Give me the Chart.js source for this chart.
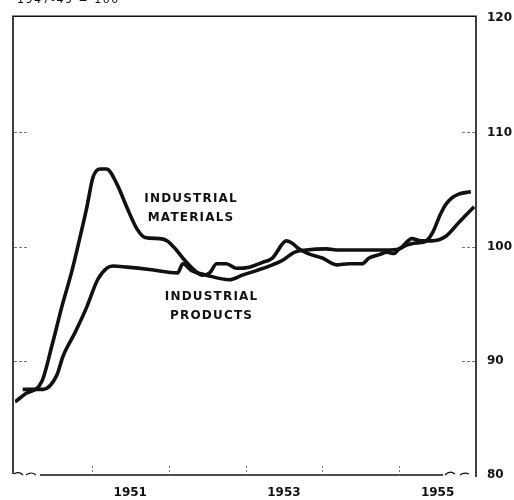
<!DOCTYPE html>
<html>
<head>
<meta charset="utf-8">
<script src="https://cdn.jsdelivr.net/npm/chart.js@4"></script>
<style>
  html, body { margin: 0; padding: 0; background: #fff; }
  #wrap { width: 514px; height: 500px; position: relative; }
</style>
</head>
<body>
<div id="wrap"><canvas id="c" width="514" height="500"></canvas></div>
<script>
// Months since January 1950
const materialsMonths = [0, 1.6, 4.2, 5.8, 7.3, 8.9, 10.1, 11.2, 12.2, 13.3, 14.3, 15.9, 17.5, 19, 20.3, 22.6, 23.8, 25.2, 26.2, 27.7, 29.3, 30.4, 31.5, 33, 34.6, 36.6, 38.6, 40.2, 42.4, 43.3, 44.1, 45.7, 48, 50.2, 52.2, 54.2, 55.3, 56.9, 58.1, 59.2, 60, 62.3, 63.9, 65.1, 66.5, 67.3, 68.1, 69.3, 71.2];
const materialsValues = [86.4, 87.1, 88.2, 91.4, 94.7, 97.9, 100.7, 103.4, 106.1, 106.8, 106.8, 105.5, 103.4, 101.6, 100.8, 100.7, 100.5, 99.7, 99.0, 98.1, 97.5, 97.7, 98.5, 98.5, 98.1, 98.2, 98.6, 99.0, 100.5, 100.3, 99.9, 99.4, 99.0, 98.4, 98.5, 98.5, 99.0, 99.3, 99.5, 99.4, 99.8, 100.3, 100.4, 101.1, 102.9, 103.7, 104.2, 104.6, 104.8];

const productsMonths = [1.2, 4.4, 6.5, 7.5, 9.4, 11.2, 12.9, 14.3, 15.3, 17.5, 21, 25.4, 26.2, 27.6, 29.9, 33.5, 35.5, 37.7, 40.2, 41.8, 43.6, 45.5, 48.6, 50.6, 53.3, 55.8, 58, 60, 62, 63.4, 65.1, 67.3, 69.3, 71.7];
const productsValues = [87.5, 87.5, 88.7, 90.4, 92.5, 94.7, 97.1, 98.1, 98.3, 98.2, 98.0, 97.7, 98.5, 97.9, 97.5, 97.1, 97.5, 97.9, 98.4, 98.8, 99.5, 99.7, 99.8, 99.7, 99.7, 99.7, 99.7, 99.8, 100.7, 100.5, 100.5, 100.9, 102.1, 103.5];

const yearLabels = ["1951", "1953", "1955"];
const yearLabelMonths = [18, 42, 66];
const yearTickMonths = [12, 24, 36, 48, 60];
const valueTicks = [80, 90, 100, 110, 120];
const innerTickValues = [90, 100, 110];
const baseNote = "1947-49 = 100";
const seriesNotes = [
  { lines: ["INDUSTRIAL", "MATERIALS"], month: 27.5, value: 104.2 },
  { lines: ["INDUSTRIAL", "PRODUCTS"], month: 30.7, value: 95.6 }
];

const toPoints = (xs, ys) => xs.map((x, i) => ({ x: x, y: ys[i] }));

const decor = {
  id: 'decor',
  afterDatasetsDraw(chart) {
    const ctx = chart.ctx;
    const a = chart.chartArea;
    const xs = chart.scales.x, ys = chart.scales.y;
    ctx.save();
    // frame
    ctx.strokeStyle = '#111';
    ctx.lineWidth = 1.6;
    ctx.beginPath();
    ctx.moveTo(a.left - 2, a.bottom - 1);
    ctx.lineTo(a.left - 2, a.top - 2);
    ctx.lineTo(a.right, a.top - 2);
    ctx.lineTo(a.right, a.bottom + 2);
    ctx.stroke();
    // bottom baseline with break marks
    ctx.beginPath();
    ctx.moveTo(a.left + 25, a.bottom);
    ctx.lineTo(a.right - 33, a.bottom);
    ctx.stroke();
    ctx.lineWidth = 1.2;
    ctx.beginPath();
    ctx.moveTo(a.left - 1, a.bottom - 1);
    ctx.quadraticCurveTo(a.left + 4, a.bottom - 4, a.left + 8, a.bottom);
    ctx.moveTo(a.left + 11, a.bottom);
    ctx.quadraticCurveTo(a.left + 16, a.bottom - 4, a.left + 21, a.bottom);
    ctx.moveTo(a.right - 31, a.bottom);
    ctx.quadraticCurveTo(a.right - 26, a.bottom - 5, a.right - 21, a.bottom - 1);
    ctx.moveTo(a.right - 16, a.bottom);
    ctx.quadraticCurveTo(a.right - 12, a.bottom - 3, a.right - 7, a.bottom - 1);
    ctx.stroke();
    // x ticks at year boundaries
    ctx.strokeStyle = '#777';
    ctx.lineWidth = 1;
    ctx.setLineDash([2, 2]);
    yearTickMonths.forEach(m => {
      const px = Math.round(xs.getPixelForValue(m)) + 0.5;
      ctx.beginPath();
      ctx.moveTo(px, a.bottom - 9);
      ctx.lineTo(px, a.bottom);
      ctx.stroke();
    });
    // inner y ticks
    ctx.setLineDash([3, 2]);
    innerTickValues.forEach(v => {
      const py = Math.round(ys.getPixelForValue(v)) + 0.5;
      ctx.beginPath();
      ctx.moveTo(a.left - 1, py);
      ctx.lineTo(a.left + 13, py);
      ctx.moveTo(a.right - 14, py);
      ctx.lineTo(a.right, py);
      ctx.stroke();
    });
    ctx.setLineDash([]);
    // series notes
    ctx.fillStyle = '#111';
    ctx.font = 'bold 12px "DejaVu Sans"';
    ctx.letterSpacing = '1.2px';
    ctx.textAlign = 'center';
    ctx.textBaseline = 'middle';
    seriesNotes.forEach(n => {
      const px = xs.getPixelForValue(n.month);
      const py = ys.getPixelForValue(n.value);
      n.lines.forEach((t, i) => ctx.fillText(t, px, py + i * 19));
    });
    // base note (cut off at top)
    ctx.font = '11px "DejaVu Sans"';
    ctx.letterSpacing = '1.5px';
    ctx.textAlign = 'left';
    ctx.textBaseline = 'alphabetic';
    ctx.fillText(baseNote, 17, 2.5);
    ctx.restore();
  }
};

new Chart(document.getElementById('c'), {
  type: 'line',
  data: {
    datasets: [
      {
        label: 'Industrial materials',
        data: toPoints(materialsMonths, materialsValues),
        borderColor: '#111',
        borderWidth: 3.6,
        pointRadius: 0,
        cubicInterpolationMode: 'monotone',
        fill: false
      },
      {
        label: 'Industrial products',
        data: toPoints(productsMonths, productsValues),
        borderColor: '#111',
        borderWidth: 3.6,
        pointRadius: 0,
        cubicInterpolationMode: 'monotone',
        fill: false
      }
    ]
  },
  options: {
    responsive: false,
    animation: false,
    layout: { padding: { left: 15, top: 14, right: 0, bottom: 0 } },
    plugins: { legend: { display: false }, tooltip: { enabled: false } },
    scales: {
      x: {
        type: 'linear',
        min: 0,
        max: 72,
        grid: { display: false, drawTicks: false, tickLength: 0 },
        border: { display: false },
        afterBuildTicks: s => { s.ticks = yearLabelMonths.map(v => ({ value: v })); },
        afterFit: s => { s.height = 25; },
        ticks: {
          autoSkip: false,
          maxRotation: 0,
          padding: 11,
          color: '#111',
          font: { family: 'DejaVu Sans', size: 12, weight: 'bold' },
          callback: (v) => yearLabels[yearLabelMonths.indexOf(v)]
        }
      },
      y: {
        position: 'right',
        min: 80,
        max: 120,
        grid: { display: false, drawTicks: false, tickLength: 0 },
        border: { display: false },
        afterBuildTicks: s => { s.ticks = valueTicks.map(v => ({ value: v })); },
        afterFit: s => { s.width = 38; },
        ticks: {
          padding: 11,
          color: '#111',
          font: { family: 'DejaVu Sans', size: 12, weight: 'bold' }
        }
      }
    }
  },
  plugins: [decor]
});
</script>
</body>
</html>
